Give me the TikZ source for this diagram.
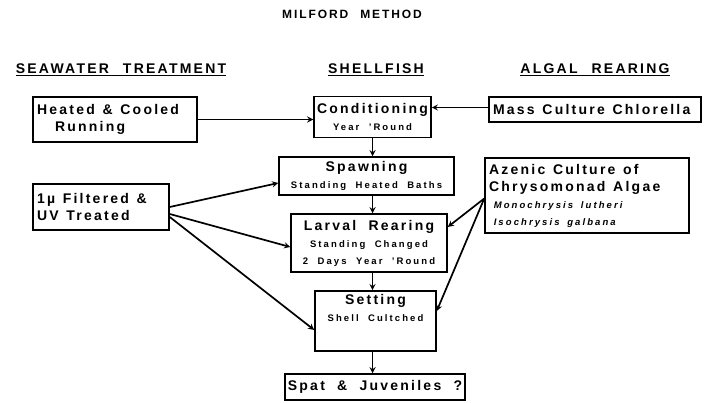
\documentclass[tikz,border=0pt]{standalone}
\usepackage{fontspec}
\setmainfont{Liberation Sans}[LetterSpace=16, WordSpace=2]
\usetikzlibrary{arrows}

\newcommand{\sub}{\fontsize{9.5}{12}\selectfont\addfontfeature{LetterSpace=22}}
\newcommand{\boxfont}{\fontsize{14}{17}\selectfont}

\tikzstyle{stage} = [rectangle, draw=black, line width=1.5pt, inner sep=3pt, align=center, font=\boxfont\bfseries]
\tikzstyle{source} = [rectangle, draw=black, line width=1.5pt, inner sep=4pt, align=flush left, font=\boxfont\bfseries,
    execute at begin node={\spaceskip=0.55em plus 0.1em\relax}]
\tikzstyle{heading} = [font=\fontsize{14}{17}\selectfont\bfseries]
\tikzstyle{arrow} = [line width=1.7pt,->,>=stealth]

\begin{document}
\begin{tikzpicture}[x=1pt,y=-1pt]
    \useasboundingbox (0,0) rectangle (708,403);

    \node (title) [font=\fontsize{12}{14}\selectfont\bfseries] at (352,14) {MILFORD\quad METHOD};
    \node (seawater) [heading] at (121,70) {\underline{SEAWATER\quad TREATMENT}};
    \node (shellfish) [heading] at (376,70) {\underline{SHELLFISH}};
    \node (algal) [heading] at (595,70) {\underline{ALGAL\quad REARING}};

    % seawater treatment
    \node (heated) [source, text width=156pt, minimum height=45pt] at (115,119.5) {Heated \& Cooled\\\hspace*{18pt}Running};
    \node (filtered) [source, text width=128pt, minimum height=46pt] at (101,207) {1µ Filtered \&\\UV Treated};

    % shellfish
    \node (cond) [stage, minimum width=117pt, minimum height=41pt] at (372.5,117) {Conditioning\\{\sub Year 'Round}};
    \node (spawn) [stage, minimum width=175pt, minimum height=38pt] at (366.5,176) {Spawning\\{\sub Standing Heated Baths}};
    \node (larval) [stage, minimum width=156pt, minimum height=58pt] at (369,243) {Larval Rearing\\{\sub Standing Changed}\\{\sub 2 Days Year 'Round}};
    \node (setting) [stage, minimum width=121pt, minimum height=58pt] at (375.5,321) {Setting\\{\sub Shell Cultched}\\[10pt]\mbox{}};
    \node (spat) [stage, minimum width=176pt, minimum height=26pt] at (375,387) {Spat \& Juveniles ?};

    % algal rearing
    \node (mass) [source, text width=204pt, minimum height=25pt] at (595,109.5) {Mass Culture Chlorella};
    \node (azenic) [source, text width=196pt, minimum height=75pt] at (587,195.5) {Azenic Culture of\\Chrysomonad Algae\\{\sub\enspace\itshape Monochrysis lutheri}\\{\sub\enspace\itshape Isochrysis galbana}};

    \draw [arrow] (heated.east) -- (heated.east -| cond.west);
    \draw [arrow] ([yshift=2pt]mass.west) -- ([yshift=2pt]mass.west -| cond.east);
    \draw [arrow] (cond.south) -- (cond.south |- spawn.north);
    \draw [arrow] (cond.south |- spawn.south) -- (cond.south |- larval.north);
    \draw [arrow] (cond.south |- larval.south) -- (cond.south |- setting.north);
    \draw [arrow] (cond.south |- setting.south) -- (cond.south |- spat.north);

    \draw [arrow] ([yshift=0pt]filtered.east) -- ([yshift=-7pt]spawn.west);
    \draw [arrow] ([yshift=-7pt]filtered.east) -- ([yshift=-4pt]larval.west);
    \draw [arrow] ([yshift=-10pt]filtered.east) -- ([yshift=-9pt]setting.west);
    \draw [arrow] ([yshift=-3pt]azenic.west) -- ([yshift=16pt]larval.east);
    \draw [arrow] ([yshift=-3pt]azenic.west) -- ([yshift=10pt]setting.east);

\end{tikzpicture}
\end{document}
